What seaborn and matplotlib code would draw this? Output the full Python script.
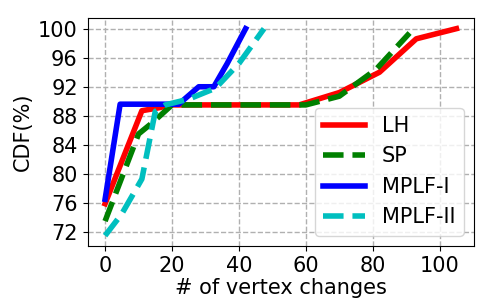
import numpy as np
import pandas as pd
import matplotlib
matplotlib.use("Agg")
import matplotlib.pyplot as plt
import seaborn as sns

# Values
lh_x = [0, 11, 16, 20, 58, 70, 82, 93, 105]
lh_y = [75.9, 88.7, 89.1, 89.5, 89.5, 91.2, 94.0, 98.6, 100]

sp_x = [0, 10, 14, 20, 60, 70, 81, 91]
sp_y = [73.5, 85.5, 87.0, 89.5, 89.5, 90.7, 94.4, 99.4]

mplf1_x = [0, 4.5, 22, 28, 32.5, 36.5, 42]
mplf1_y = [76.5, 89.6, 89.6, 92.0, 92.0, 95.2, 100]

mplf2_x = [0, 5, 11, 15, 18, 25, 33, 40, 47.5]
mplf2_y = [71.5, 74.5, 79.3, 88.6, 89.5, 90.3, 91.8, 95.2, 100]

series = [("LH", lh_x, lh_y), ("SP", sp_x, sp_y),
          ("MPLF-I", mplf1_x, mplf1_y), ("MPLF-II", mplf2_x, mplf2_y)]

df = pd.concat([
    pd.DataFrame({"x": xs, "y": ys, "method": name})
    for name, xs, ys in series
], ignore_index=True)

fig, ax = plt.subplots(figsize=(5, 3), dpi=100)

sns.lineplot(
    data=df, x="x", y="y", hue="method", style="method",
    palette={"LH": "red", "SP": "green", "MPLF-I": "blue", "MPLF-II": "c"},
    dashes={"LH": "", "SP": (3.7, 1.6), "MPLF-I": "", "MPLF-II": (3.7, 1.6)},
    linewidth=4, sort=False, estimator=None, ax=ax
)

ax.set_yticks(np.arange(72, 101, 4))
ax.set_xticks(np.arange(0, 101, 20))
ax.tick_params(labelsize=15)
ax.grid(True, linestyle="--", color="#b0b0b0", linewidth=1)
ax.set_xlabel("# of vertex changes", fontsize=15, labelpad=2)
ax.set_ylabel("CDF(%)", fontsize=15)

ax.legend(loc="lower right", fontsize=15, title=None)

fig.subplots_adjust(left=0.175, right=0.948, bottom=0.18, top=0.939)
fig.savefig("out.png", dpi=100)
